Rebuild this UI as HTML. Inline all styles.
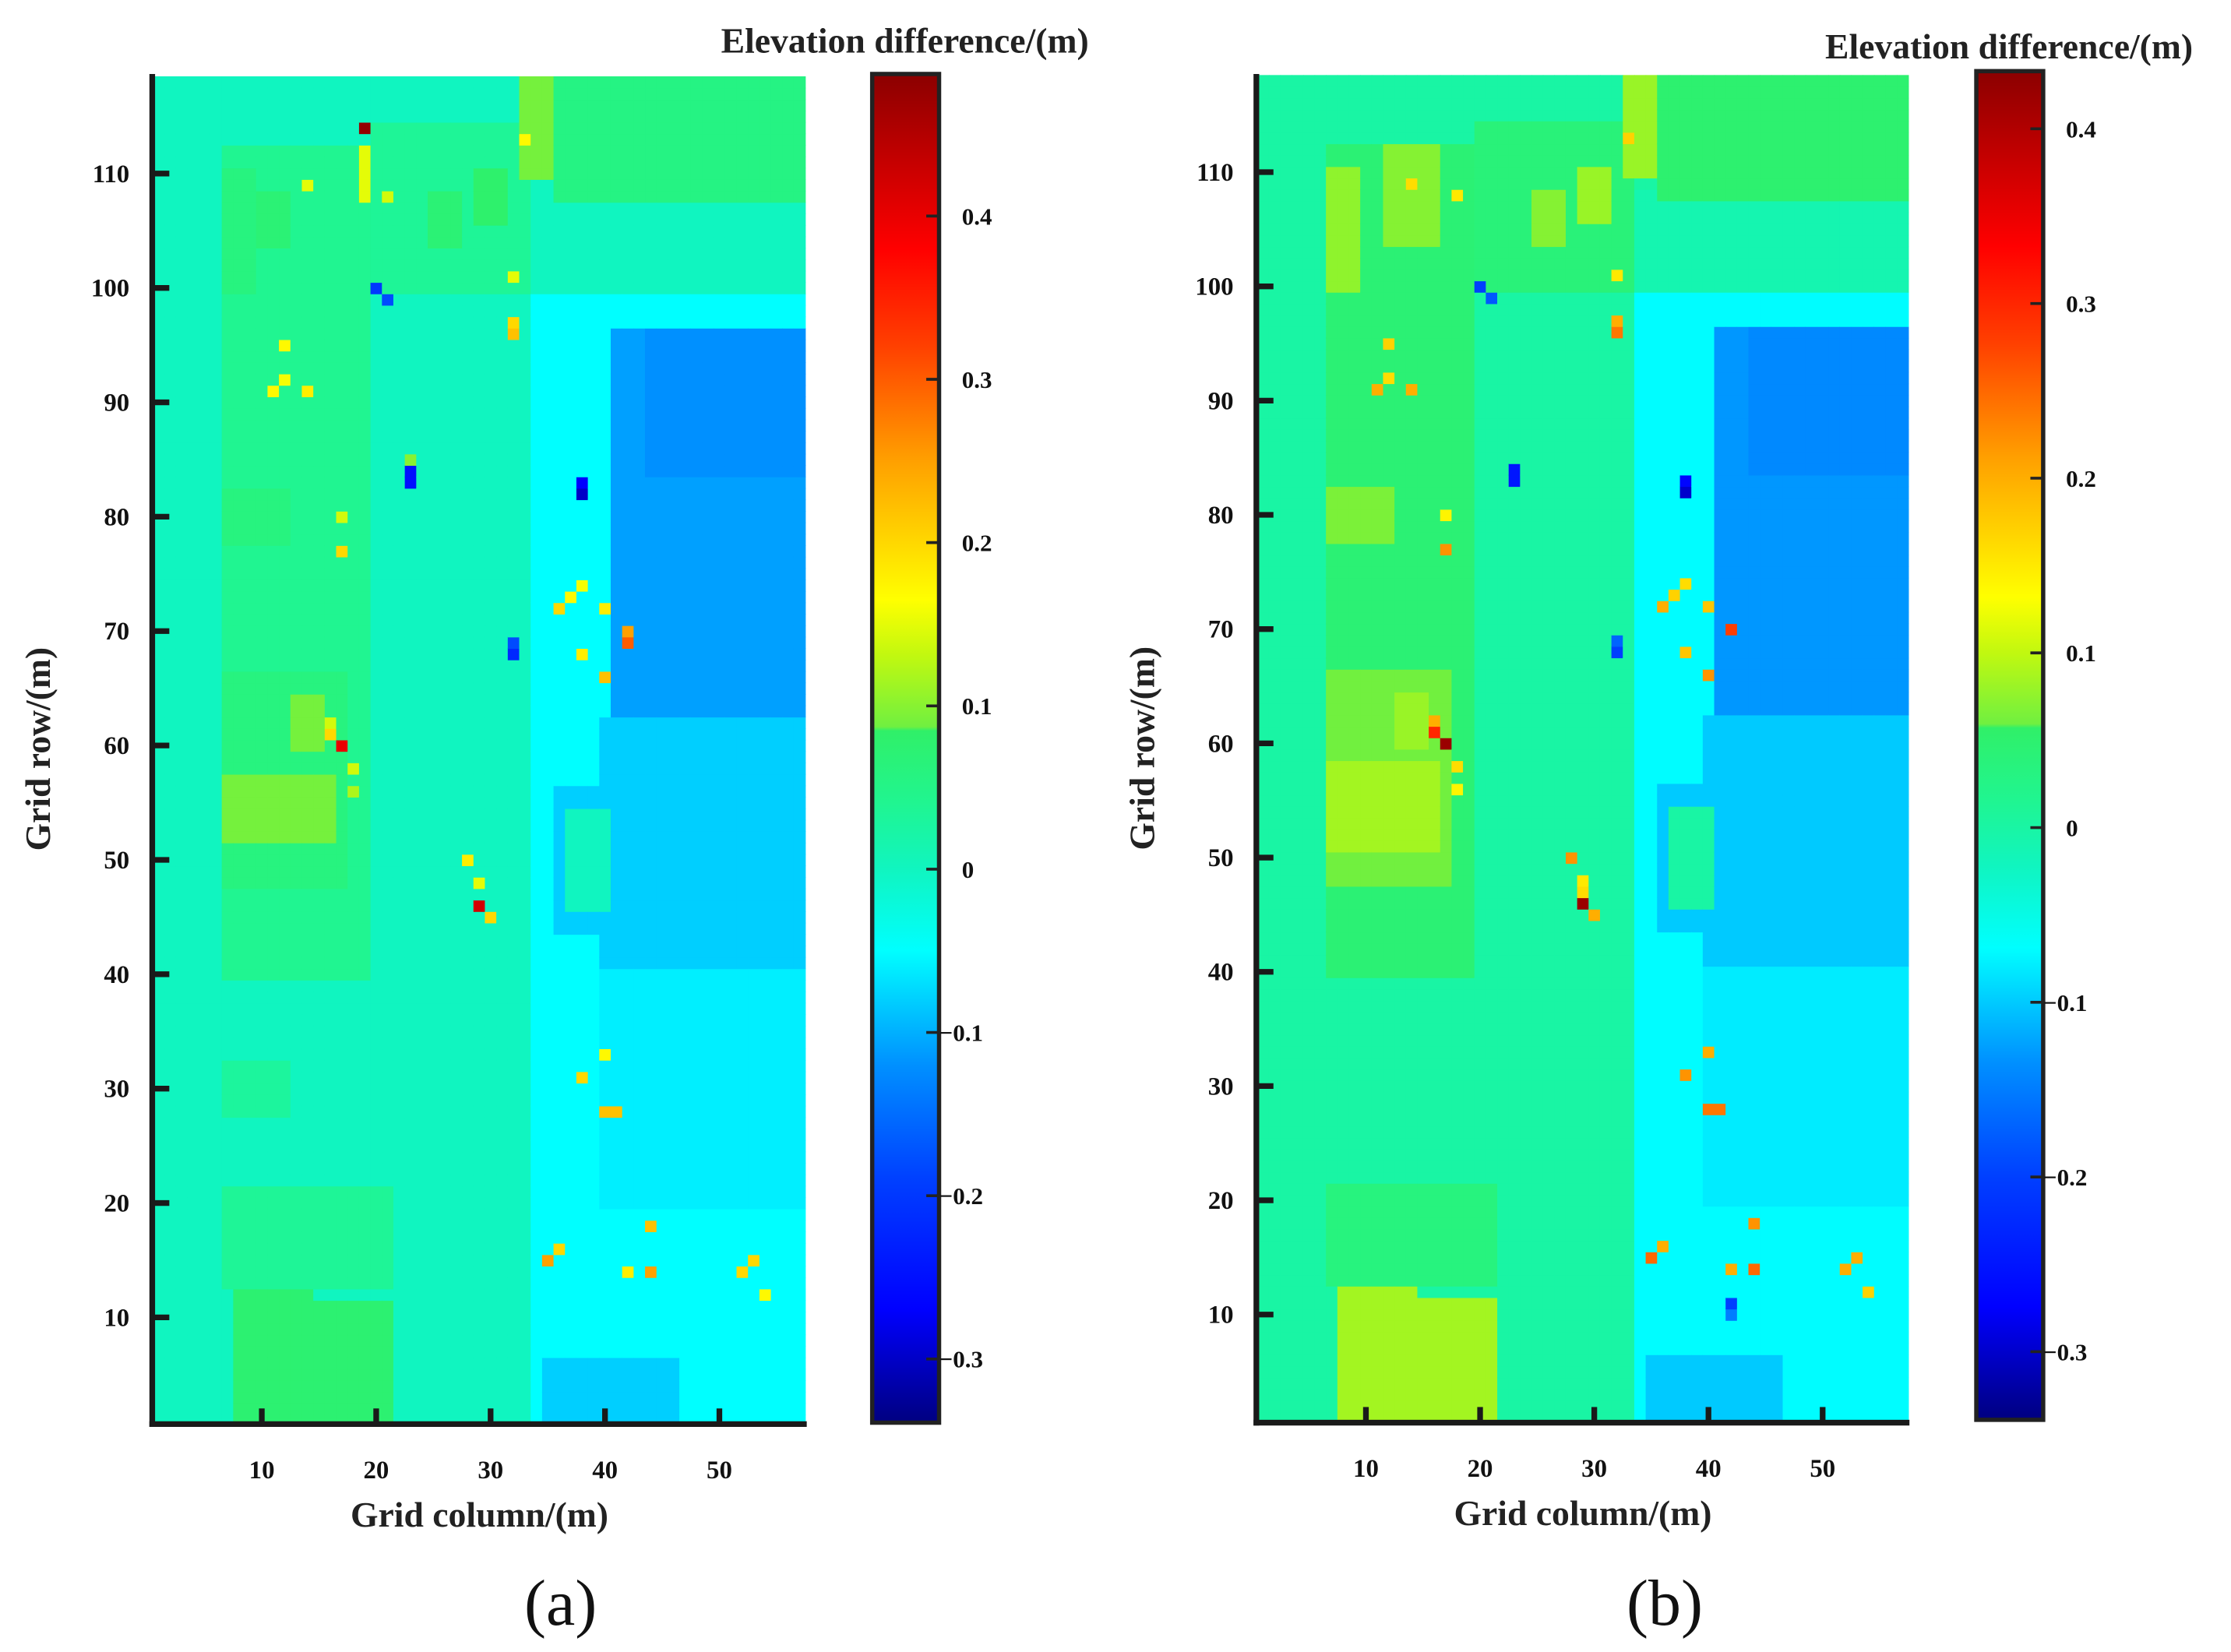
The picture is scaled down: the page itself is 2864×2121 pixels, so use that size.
<!DOCTYPE html>
<html><head><meta charset="utf-8"><style>
html,body{margin:0;padding:0;background:#fff;}
svg{display:block;font-family:"Liberation Serif",serif;}
</style></head><body>
<svg id="fig" width="2864" height="2121" viewBox="0 0 1568 1161.2" preserveAspectRatio="none" xmlns="http://www.w3.org/2000/svg">
<defs><linearGradient id="cmap" x1="0" y1="1" x2="0" y2="0"></linearGradient></defs>
<g id="panelA"></g>
<g id="panelB"></g>
</svg>
<script>
// ---- data: colormap (fraction of range) ----
const cmapFrac = [0,0.084,0.181,0.265,0.350,0.410,0.460,0.513,0.516,0.568,0.610,0.713,0.798,0.870,1];
const cmapCol = ["#000080","#0000ff","#0040ff","#0090ff","#00ffff","#10f5c0","#20f590","#30f068","#70f040","#c0f810","#ffff00","#ffa000","#ff4000","#ff0000","#8b0000"];
// ---- panel a data ----
const rangeA = [-0.339, 0.487];
const cbTicksA = [0.4,0.3,0.2,0.1,0,-0.1,-0.2,-0.3];
const zonesA = [
 [1,57,1,118,0],[7,19,40,112,0.04],[20,33,100,114,0.035],[7,17,48,66,0.06],[7,16,52,57,0.09],
 [7,21,13,21,0.035],[8,14,1,12,0.075],[15,21,1,11,0.075],[34,57,1,100,-0.05],[34,57,100,108,0.0],
 [36,57,108,118,0.055],[33,35,110,118,0.09],[41,57,62,96,-0.11],[44,57,84,96,-0.12],
 [40,57,40,62,-0.08],[40,57,20,40,-0.06],[35,50,1,6,-0.08],[47,57,1,8,-0.05],
 [36,41,44,56,-0.08],[37,40,46,54,0],[19,19,108,112,0.15],[7,9,100,110,0.06],[13,15,60,64,0.09],
 [10,12,104,108,0.07],[25,27,104,108,0.07],[29,31,106,110,0.08],[7,12,78,82,0.06],[7,12,28,32,0.03]
];
const spotsA = [
 [19,114,0.48],[38,82,-0.3],[38,83,-0.27],[23,83,-0.25],[23,84,-0.25],[20,100,-0.2],[21,99,-0.18],
 [32,68,-0.22],[32,69,-0.18],[17,60,0.4],[16,61,0.2],[16,62,0.14],[29,46,0.42],[42,69,0.3],[42,70,0.25],
 [28,50,0.18],[29,48,0.15],[30,45,0.2],[40,66,0.22],[38,68,0.18],[37,73,0.17],[36,72,0.2],[38,74,0.16],
 [40,72,0.18],[32,101,0.15],[32,97,0.2],[32,96,0.22],[12,95,0.17],[11,91,0.17],[12,92,0.16],[17,80,0.14],
 [17,77,0.2],[40,28,0.22],[41,28,0.22],[38,31,0.2],[40,33,0.17],[44,18,0.22],[44,14,0.25],[42,14,0.18],
 [36,16,0.2],[35,15,0.25],[53,15,0.2],[52,14,0.2],[54,12,0.17],[21,108,0.14],[14,109,0.15],[33,113,0.17],
 [18,56,0.12],[18,58,0.14],[23,85,0.1],[14,91,0.18]
];
// ---- panel b data ----
const rangeB = [-0.339, 0.433];
const cbTicksB = [0.4,0.3,0.2,0.1,0,-0.1,-0.2,-0.3];
const zonesB = [
 [1,57,1,118,0],[7,19,40,112,0.045],[20,33,100,114,0.04],[7,17,48,66,0.06],[7,16,51,58,0.085],
 [7,21,13,21,0.035],[8,14,1,12,0.085],[15,21,1,11,0.085],[34,57,1,100,-0.07],[34,57,100,108,-0.01],
 [36,57,108,118,0.05],[33,35,110,118,0.08],[41,57,62,96,-0.13],[44,57,84,96,-0.14],
 [40,57,40,62,-0.1],[40,57,20,40,-0.08],[35,50,1,6,-0.1],[47,57,1,8,-0.07],
 [36,41,44,56,-0.1],[37,40,46,54,0.0],[7,9,100,110,0.075],[12,16,104,112,0.07],[13,15,60,64,0.08],
 [25,27,104,108,0.07],[29,31,106,110,0.08],[7,12,78,82,0.065]
];
const spotsB = [
 [38,82,-0.3],[38,83,-0.27],[23,83,-0.25],[23,84,-0.25],[20,100,-0.2],[21,99,-0.18],
 [32,68,-0.2],[32,69,-0.17],[17,60,0.42],[16,61,0.3],[16,62,0.2],[29,46,0.42],[42,70,0.28],
 [28,50,0.22],[29,48,0.15],[29,47,0.16],[30,45,0.2],[40,66,0.22],[38,68,0.18],[37,73,0.17],[36,72,0.2],[38,74,0.16],
 [40,72,0.18],[32,101,0.15],[32,97,0.2],[32,96,0.24],[12,95,0.17],[11,91,0.2],[12,92,0.16],[17,80,0.14],
 [17,77,0.22],[40,28,0.24],[41,28,0.24],[38,31,0.22],[40,33,0.2],[44,18,0.22],[44,14,0.25],[42,14,0.2],
 [36,16,0.2],[35,15,0.25],[53,15,0.2],[52,14,0.2],[54,12,0.17],[42,11,-0.2],[42,10,-0.15],
 [14,109,0.16],[18,108,0.15],[33,113,0.17],[18,56,0.14],[18,58,0.16],[14,91,0.2]
];
const xTicks = [10,20,30,40,50];
const yTicks = [10,20,30,40,50,60,70,80,90,100,110];

// ---- helpers ----
const NS="http://www.w3.org/2000/svg";
function hex(c){return [parseInt(c.substr(1,2),16),parseInt(c.substr(3,2),16),parseInt(c.substr(5,2),16)];}
function colorAt(f){
  f=Math.max(0,Math.min(1,f));
  for(let i=0;i<cmapFrac.length-1;i++){
    if(f<=cmapFrac[i+1]){
      const t=(f-cmapFrac[i])/(cmapFrac[i+1]-cmapFrac[i]||1);
      const a=hex(cmapCol[i]),b=hex(cmapCol[i+1]);
      return "rgb("+a.map((v,k)=>Math.round(v+(b[k]-v)*t)).join(",")+")";
    }
  }
  return cmapCol[cmapCol.length-1];
}
function mk(tag,attrs,parent){const e=document.createElementNS(NS,tag);for(const k in attrs)e.setAttribute(k,attrs[k]);parent.appendChild(e);return e;}
const grad=document.getElementById('cmap');
cmapFrac.forEach((f,i)=>mk('stop',{offset:f,'stop-color':cmapCol[i]},grad));

function drawPanel(g,cfg){
  const {x10,y10,dx,dy,left,right,top,bottom,range,zones,spots,cb,cbTicks,title,label}=cfg;
  const xs=c=>x10+(c-10)*dx, ys=r=>y10-(r-10)*dy;
  const grid=[];for(let c=1;c<=57;c++){grid[c]=[];for(let r=1;r<=118;r++)grid[c][r]=0;}
  zones.forEach(z=>{for(let c=z[0];c<=z[1];c++)for(let r=z[2];r<=z[3];r++)grid[c][r]=z[4];});
  spots.forEach(s=>{grid[s[0]][s[1]]=s[2];});
  const hm=mk('g',{},g);
  
  
  for(let c=1;c<=57;c++)for(let r=1;r<=118;r++){
    const v=grid[c][r];const f=(v-range[0])/(range[1]-range[0]);
    const rc=mk('rect',{x:xs(c-0.5),y:ys(r+0.5),width:dx+0.4,height:dy+0.4,fill:colorAt(f)},hm);
    
    
  }
  const ax=mk('g',{stroke:'#1a1a1a','stroke-width':4},g);
  
  
  mk('line',{x1:left,y1:top,x2:left,y2:bottom+2},ax);
  mk('line',{x1:left-2,y1:bottom,x2:right,y2:bottom},ax);
  yTicks.forEach(t=>{
    mk('line',{x1:left,y1:ys(t),x2:left+12,y2:ys(t)},ax);
    const tx=mk('text',{x:left-16,y:ys(t)+6,'text-anchor':'end','font-size':18,'font-weight':'bold',fill:'#111',stroke:'none'},g);
    tx.textContent=t;
    
    
  });
  xTicks.forEach(t=>{
    mk('line',{x1:xs(t),y1:bottom,x2:xs(t),y2:bottom-11},ax);
    const tx=mk('text',{x:xs(t),y:bottom+38,'text-anchor':'middle','font-size':18,'font-weight':'bold',fill:'#111'},g);
    tx.textContent=t;
    
    
  });
  const xt=mk('text',{x:(left+right)/2,y:bottom+72,'text-anchor':'middle','font-size':25,'font-weight':'bold',fill:'#222'},g);
  xt.textContent='Grid column/(m)';
  
  
  const yt=mk('text',{x:0,y:0,'text-anchor':'middle','font-size':25,'font-weight':'bold',fill:'#222',transform:`translate(${left-72},${(top+bottom)/2}) rotate(-90)`},g);
  yt.textContent='Grid row/(m)';
  
  
  const cbg=mk('g',{},g);
  
  
  mk('rect',{x:cb.x,y:cb.top,width:cb.w,height:cb.bottom-cb.top,fill:'url(#cmap)',stroke:'#222','stroke-width':3},cbg);
  const cy=v=>cb.bottom-(v-range[0])/(range[1]-range[0])*(cb.bottom-cb.top);
  cbTicks.forEach(t=>{
    mk('line',{x1:cb.x+cb.w-9,y1:cy(t),x2:cb.x+cb.w,y2:cy(t),stroke:'#222','stroke-width':2},cbg);
    const tx=mk('text',{x:cb.x+cb.w+(t<0?0:16),y:cy(t)+6,'font-size':17,'font-weight':'bold',fill:'#111'},cbg);
    tx.textContent=t<0?'\u2212'+Math.abs(t):String(t);
    
    
  });
  const ct=mk('text',{x:title.x,y:title.y,'text-anchor':'middle','font-size':25,'font-weight':'bold',fill:'#222'},g);
  ct.textContent='Elevation difference/(m)';
  
  
  const lb=mk('text',{x:label.x,y:label.y,'text-anchor':'middle','font-size':46,fill:'#111'},g);
  lb.textContent=label.t;
  
  
}
drawPanel(document.getElementById('panelA'),{x10:184,y10:926,dx:8.04,dy:8.04,left:107,right:567,top:52,bottom:1001,
  range:rangeA,zones:zonesA,spots:spotsA,cb:{x:613,w:47,top:52,bottom:1000},cbTicks:cbTicksA,
  title:{x:636,y:37},label:{x:394,y:1142,t:'(a)'}});
drawPanel(document.getElementById('panelB'),{x10:960,y10:924,dx:8.025,dy:8.03,left:883,right:1342,top:52,bottom:1000,
  range:rangeB,zones:zonesB,spots:spotsB,cb:{x:1389,w:47,top:50,bottom:998},cbTicks:cbTicksB,
  title:{x:1412,y:41},label:{x:1170,y:1142,t:'(b)'}});
</script>
</body></html>
